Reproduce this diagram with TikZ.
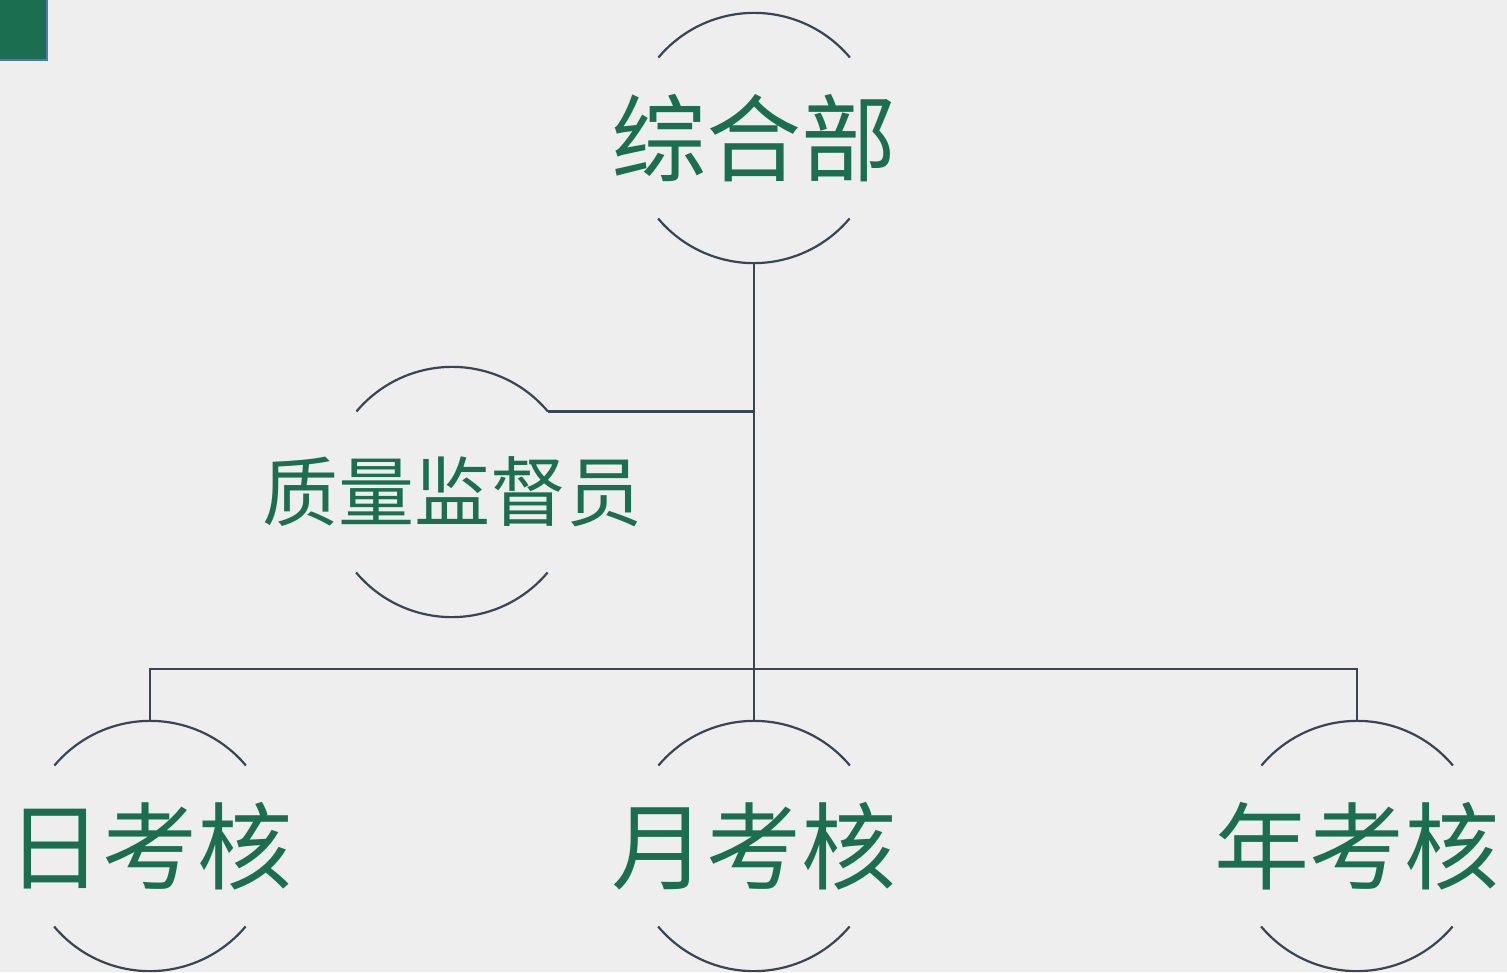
\documentclass[tikz,border=0pt]{standalone}
\usepackage{fontspec}
\newfontfamily\cjk{Noto Sans CJK SC}
\definecolor{bg}{HTML}{EEEEEE}
\definecolor{tgreen}{HTML}{1B6E50}
\definecolor{sqblue}{HTML}{4F7AB0}
\definecolor{linec}{HTML}{3A4457}
\begin{document}
\begin{tikzpicture}[x=1pt,y=1pt,
  ring/.style={circle, minimum size=250pt, inner sep=0pt},
  bigtext/.style={inner sep=0pt, text=tgreen, font=\cjk\fontsize{95}{100}\selectfont},
  smalltext/.style={bigtext, font=\cjk\fontsize{76}{80}\selectfont},
  conn/.style={draw=linec, line width=2.2pt},
  arcs/.style={draw=linec, line width=2.2pt}]
\useasboundingbox (0,0) rectangle (1507,-972);
\fill[bg] (0,0) rectangle (1507,-972);
\draw[fill=tgreen, draw=sqblue, line width=2pt] (-2,2) rectangle (47,-60);
\node[ring] (top) at (754,-138) {};
\node[ring] (zhi) at (452,-492) {};
\node[ring] (ri) at (150,-846) {};
\node[ring] (yue) at (754,-846) {};
\node[ring] (nian) at (1357,-846) {};
\node[bigtext] (top-t) at (top) {综合部};
\node[smalltext] (zhi-t) at (zhi) {质量监督员};
\node[bigtext] (ri-t) at (ri) {日考核};
\node[bigtext] (yue-t) at (yue) {月考核};
\node[bigtext] (nian-t) at (nian) {年考核};
\foreach \n in {top,zhi,ri,yue,nian}{
  \draw[arcs] (\n.40) arc[start angle=40, end angle=140, radius=125pt];
  \draw[arcs] (\n.220) arc[start angle=220, end angle=320, radius=125pt];
}
\coordinate (bus) at (754,-669);
\draw[conn] (top.south) -- (yue.north);
\draw[conn] (zhi.40) -- (zhi.40 -| top.south);
\draw[conn] (ri.north) |- (bus) -| (nian.north);
\end{tikzpicture}
\end{document}
